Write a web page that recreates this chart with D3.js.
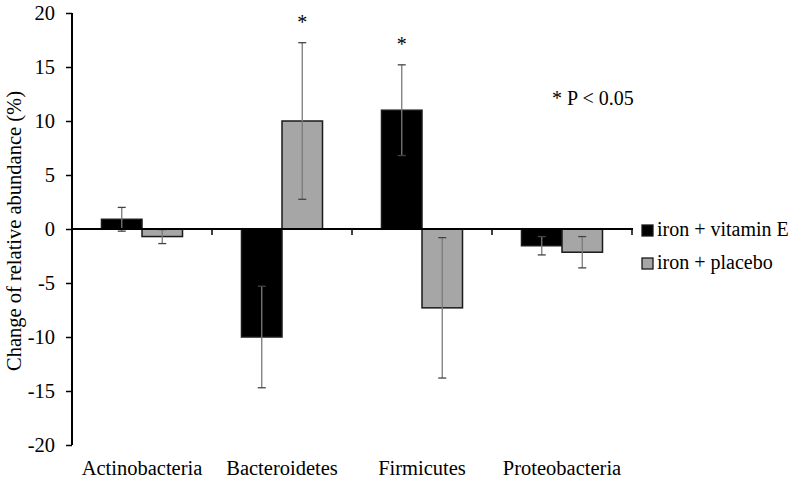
<!DOCTYPE html>
<html><head><meta charset="utf-8">
<script src="https://cdn.jsdelivr.net/npm/d3@7"></script>
<style>body{margin:0;background:#fff}svg{display:block}text{font-family:"Liberation Serif","Times New Roman",serif;fill:#000}</style>
</head><body><svg id="c" width="800" height="483"></svg>
<script>
const categories = ["Actinobacteria","Bacteroidetes","Firmicutes","Proteobacteria"];
const seriesNames = ["iron + vitamin E","iron + placebo"];
const vitE = [0.9, -10.0, 11.0, -1.55];
const vitEErr = [1.1, 4.7, 4.2, 0.85];
const placebo = [-0.7, 10.0, -7.3, -2.15];
const placeboErr = [0.65, 7.25, 6.5, 1.45];
const vitESig = [false, false, true, false];
const placeboSig = [false, true, false, false];
const yTicks = [-20,-15,-10,-5,0,5,10,15,20];
const colors = ["#000000","#a6a6a6"];

const svg = d3.select("#c");
const x = d3.scaleBand().domain(categories).range([72,632]).padding(0);
const xs = d3.scaleBand().domain(seriesNames).range([0,x.bandwidth()]).paddingInner(0).paddingOuter(0.728);
const y = d3.scaleLinear().domain([-20,20]).range([445,13]);

const series = [
  {name: seriesNames[0], vals: vitE, err: vitEErr, sig: vitESig, color: colors[0]},
  {name: seriesNames[1], vals: placebo, err: placeboErr, sig: placeboSig, color: colors[1]}
];

series.forEach(s => {
  svg.append("g").selectAll("rect").data(categories).join("rect")
    .attr("x", (c)=> x(c)+xs(s.name))
    .attr("width", xs.bandwidth())
    .attr("y", (c,i)=> y(Math.max(0,s.vals[i])))
    .attr("height", (c,i)=> Math.abs(y(s.vals[i])-y(0)))
    .attr("fill", s.color)
    .attr("stroke", "#1a1a1a").attr("stroke-width", 1.5);
});

series.forEach(s => {
  const g = svg.append("g");
  categories.forEach((c,i) => {
    const cx = x(c)+xs(s.name)+xs.bandwidth()/2;
    const lo = y(s.vals[i]-s.err[i]), hi = y(s.vals[i]+s.err[i]);
    g.append("line").attr("x1",cx).attr("x2",cx).attr("y1",lo).attr("y2",hi)
      .attr("stroke","#7a7a7a").attr("stroke-width",1.3);
    [lo,hi].forEach(v => g.append("line").attr("x1",cx-4).attr("x2",cx+4).attr("y1",v).attr("y2",v)
      .attr("stroke","#444").attr("stroke-width",1.3));
    if (s.sig[i]) {
      g.append("text").attr("x",cx).attr("y",hi-14).attr("text-anchor","middle")
        .style("font-size","20px").text("*");
    }
  });
});

const yAxis = svg.append("g").attr("transform","translate(72,0)")
  .call(d3.axisLeft(y).tickValues(yTicks).tickSize(6).tickPadding(11).tickFormat(d => String(d)));
yAxis.select(".domain").attr("stroke","#000").attr("stroke-width",2).attr("d","M0,13V445");
yAxis.selectAll(".tick line").attr("stroke","#000").attr("stroke-width",1.5);
yAxis.selectAll(".tick text").style("font-size","20.5px").style("font-family","Liberation Serif");

const xAxisG = svg.append("g").attr("transform",`translate(0,${y(0)})`);
xAxisG.append("line").attr("x1",72).attr("x2",633).attr("y1",0).attr("y2",0)
  .attr("stroke","#000").attr("stroke-width",2);
xAxisG.selectAll("line.bt").data(categories).join("line").attr("class","bt")
  .attr("x1",c=>x(c)+x.bandwidth()).attr("x2",c=>x(c)+x.bandwidth())
  .attr("y1",0).attr("y2",6).attr("stroke","#000").attr("stroke-width",1.5);

svg.append("g").selectAll("text").data(categories).join("text")
  .attr("x",c=>x(c)+x.bandwidth()/2).attr("y",475).attr("text-anchor","middle")
  .style("font-size","20.5px").text(c=>c);

svg.append("text").attr("transform","translate(21,231) rotate(-90)").attr("text-anchor","middle")
  .style("font-size","20.5px").text("Change of relative abundance (%)");

svg.append("text").attr("x",552).attr("y",105).style("font-size","20px").text("* P < 0.05");

const leg = svg.append("g");
series.forEach((s,i) => {
  const yy = 225 + i*33;
  leg.append("rect").attr("x",642).attr("y",yy).attr("width",11).attr("height",11)
    .attr("fill",s.color).attr("stroke","#1a1a1a").attr("stroke-width",1.3);
  leg.append("text").attr("x",657).attr("y",yy+11).style("font-size","20px").text(s.name);
});
</script></body></html>
